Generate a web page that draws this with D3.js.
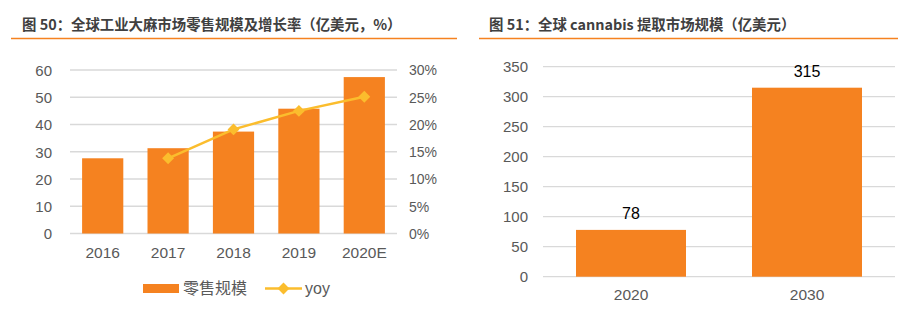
<!DOCTYPE html>
<html lang="zh">
<head>
    <meta charset="UTF-8">
    <title>工业大麻市场</title>
    <script src="https://d3js.org/d3.v7.min.js"></script>
    <style>
        body { margin: 0; background: #fff; }
        svg { display: block; font-family: "Liberation Sans", Arial, "Noto Sans CJK SC", sans-serif; }
        .title { font-family: "Noto Sans CJK SC", sans-serif; font-size: 14.4px; font-weight: bold; fill: #404040; }
        .axis text { fill: #595959; font-size: 15px; font-family: "Liberation Sans", Arial, sans-serif; }
        .grid line { stroke: #d9d9d9; stroke-width: 1.3; }
        .axis path, .axis line { display: none; }
        .legend { font-size: 16px; fill: #595959; font-family: "Noto Sans CJK SC", sans-serif; }
        .vlabel { font-size: 16px; fill: #000; text-anchor: middle; }
    </style>
</head>
<body>
<script>
    // Left chart: 全球工业大麻市场零售规模及增长率
    const years = ["2016", "2017", "2018", "2019", "2020E"];
    const retail = [27.6, 31.3, 37.4, 45.8, 57.4];
    const yoy = [null, 13.8, 19.1, 22.5, 25.1];
    const leftTicks = [0, 10, 20, 30, 40, 50, 60];
    const rightTicks = [0, 5, 10, 15, 20, 25, 30];

    // Right chart: 全球 cannabis 提取市场规模
    const extractYears = ["2020", "2030"];
    const extractValues = [78, 315];
    const extractTicks = [0, 50, 100, 150, 200, 250, 300, 350];

    const orange = "#f58220";
    const yellow = "#fbbd2d";

    const svg = d3.select("body").append("svg")
        .attr("width", 898)
        .attr("height", 312);

    // Titles and orange rules
    svg.append("text").attr("class", "title").attr("x", 22).attr("y", 30)
        .text("图 50：全球工业大麻市场零售规模及增长率（亿美元，%）");
    svg.append("text").attr("class", "title").attr("x", 489).attr("y", 30)
        .text("图 51：全球 cannabis 提取市场规模（亿美元）");
    svg.append("line").attr("x1", 11).attr("x2", 457).attr("y1", 38.5).attr("y2", 38.5)
        .attr("stroke", orange).attr("stroke-width", 1.3);
    svg.append("line").attr("x1", 479).attr("x2", 898).attr("y1", 38.5).attr("y2", 38.5)
        .attr("stroke", orange).attr("stroke-width", 1.3);

    // ---------- Left chart ----------
    const L = {left: 70, right: 397, top: 70, bottom: 233.5};

    const x1 = d3.scaleBand().domain(years).range([L.left, L.right]).paddingInner(0.37).paddingOuter(0.185);
    const y1 = d3.scaleLinear().domain([0, 60]).range([L.bottom, L.top]);
    const y1r = d3.scaleLinear().domain([0, 30]).range([L.bottom, L.top]);

    svg.append("g").attr("class", "grid")
        .selectAll("line").data(leftTicks).join("line")
        .attr("x1", L.left).attr("x2", L.right)
        .attr("y1", d => y1(d)).attr("y2", d => y1(d));

    svg.append("g").attr("class", "axis")
        .attr("transform", `translate(${L.left - 18},0)`)
        .call(d3.axisLeft(y1).tickValues(leftTicks).tickSize(0).tickPadding(0))
        .selectAll("text").attr("dy", "0.35em");

    svg.append("g").attr("class", "axis")
        .attr("transform", `translate(${L.right + 12},0)`)
        .call(d3.axisRight(y1r).tickValues(rightTicks).tickSize(0).tickPadding(0)
            .tickFormat(d => d + "%"))
        .selectAll("text").attr("dy", "0.35em").style("font-size", "14px");

    svg.append("g").attr("class", "axis")
        .attr("transform", `translate(0,${L.bottom + 8})`)
        .call(d3.axisBottom(x1).tickSize(0).tickPadding(5))
        .selectAll("text").style("font-size", "15.5px");

    svg.append("g").selectAll("rect").data(years).join("rect")
        .attr("x", d => x1(d))
        .attr("y", (d, i) => y1(retail[i]))
        .attr("width", x1.bandwidth())
        .attr("height", (d, i) => y1(0) - y1(retail[i]))
        .attr("fill", orange);

    const yoyPts = years.map((d, i) => ({year: d, v: yoy[i]})).filter(d => d.v !== null);
    const line = d3.line()
        .x(d => x1(d.year) + x1.bandwidth() / 2)
        .y(d => y1r(d.v));
    svg.append("path").datum(yoyPts)
        .attr("d", line)
        .attr("fill", "none")
        .attr("stroke", yellow)
        .attr("stroke-width", 2.5);

    const diamond = d3.symbol().type(d3.symbolDiamond2).size(90);
    svg.append("g").selectAll("path").data(yoyPts).join("path")
        .attr("d", diamond)
        .attr("transform", d => `translate(${x1(d.year) + x1.bandwidth() / 2},${y1r(d.v)})`)
        .attr("fill", yellow);

    // Legend
    const lg = svg.append("g");
    lg.append("rect").attr("x", 143).attr("y", 284).attr("width", 36).attr("height", 9).attr("fill", orange);
    lg.append("text").attr("class", "legend").attr("x", 183).attr("y", 294).text("零售规模");
    lg.append("line").attr("x1", 265).attr("x2", 302).attr("y1", 288.5).attr("y2", 288.5)
        .attr("stroke", yellow).attr("stroke-width", 2.5);
    lg.append("path").attr("d", diamond).attr("transform", "translate(283.5,288.5)").attr("fill", yellow);
    lg.append("text").attr("class", "legend").attr("x", 305).attr("y", 294)
        .style("font-family", "'Liberation Sans', Arial, sans-serif").text("yoy");

    // ---------- Right chart ----------
    const R = {left: 543, right: 895, top: 66.7, bottom: 276.7};

    const x2 = d3.scaleBand().domain(extractYears).range([R.left, R.right]).paddingInner(0.375).paddingOuter(0.1875);
    const y2 = d3.scaleLinear().domain([0, 350]).range([R.bottom, R.top]);

    svg.append("g").attr("class", "grid")
        .selectAll("line").data(extractTicks).join("line")
        .attr("x1", R.left).attr("x2", R.right)
        .attr("y1", d => y2(d)).attr("y2", d => y2(d));

    svg.append("g").attr("class", "axis")
        .attr("transform", `translate(${R.left - 15},0)`)
        .call(d3.axisLeft(y2).tickValues(extractTicks).tickSize(0).tickPadding(0))
        .selectAll("text").attr("dy", "0.35em");

    svg.append("g").attr("class", "axis")
        .attr("transform", `translate(0,${R.bottom + 7})`)
        .call(d3.axisBottom(x2).tickSize(0).tickPadding(5))
        .selectAll("text").style("font-size", "15.5px");

    svg.append("g").selectAll("rect").data(extractYears).join("rect")
        .attr("x", d => x2(d))
        .attr("y", (d, i) => y2(extractValues[i]))
        .attr("width", x2.bandwidth())
        .attr("height", (d, i) => y2(0) - y2(extractValues[i]))
        .attr("fill", orange);

    svg.append("g").selectAll("text").data(extractYears).join("text")
        .attr("class", "vlabel")
        .attr("x", d => x2(d) + x2.bandwidth() / 2)
        .attr("y", (d, i) => y2(extractValues[i]) - 11)
        .text((d, i) => extractValues[i]);
</script>
</body>
</html>
